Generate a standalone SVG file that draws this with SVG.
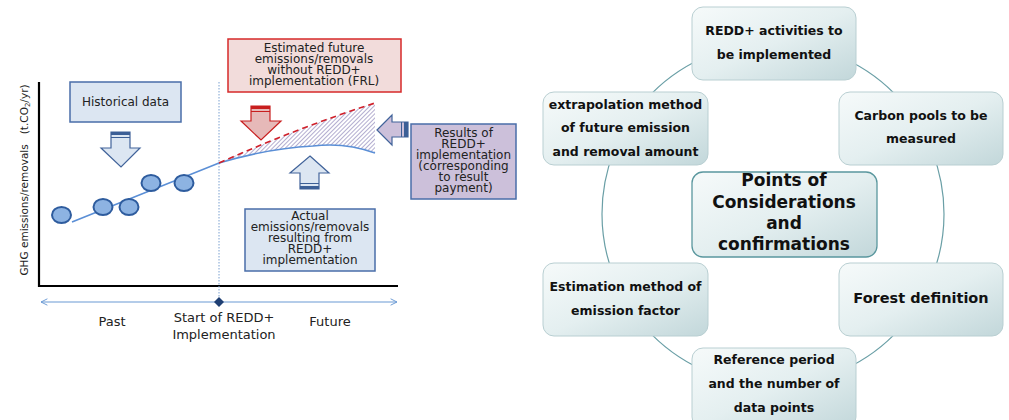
<svg xmlns="http://www.w3.org/2000/svg" width="1009" height="420" viewBox="0 0 1009 420">
<style>
.t{font-family:"DejaVu Sans",Verdana,sans-serif;fill:#222;text-anchor:middle}
.s{font-size:12px}
.b{font-family:"DejaVu Sans",Verdana,sans-serif;font-weight:bold;fill:#111;text-anchor:middle;font-size:12.5px}
.box{fill:#dce6f2;stroke:#4a6ea9;stroke-width:1.5}
.card{fill:url(#g);stroke:#b9cfd2;stroke-width:1}
.dot{fill:#8db3e2;stroke:#2e5c9e;stroke-width:2}
.band{fill:#3c5f96}
</style>
<defs>
<linearGradient id="g" x1="0" y1="0" x2="1" y2="1">
<stop offset="0" stop-color="#f6fafa"/>
<stop offset="0.5" stop-color="#e4eff0"/>
<stop offset="1" stop-color="#c2d7da"/>
</linearGradient>
<pattern id="hatch" width="3" height="3" patternUnits="userSpaceOnUse" patternTransform="rotate(45)">
<line x1="0" y1="0" x2="0" y2="3" stroke="#8a80b6" stroke-width="1.3"/>
</pattern>
<marker id="chev" viewBox="0 0 10 10" refX="9" refY="5" markerWidth="8" markerHeight="8" orient="auto-start-reverse" markerUnits="userSpaceOnUse">
<path d="M1,1 L9,5 L1,9" fill="none" stroke="#6a9ad4" stroke-width="1.2"/>
</marker>
</defs>
<rect width="1009" height="420" fill="#fff"/>

<!-- Left chart -->
<g id="axes">
<line x1="39" y1="82" x2="39" y2="287" stroke="#000" stroke-width="2.2"/>
<line x1="38" y1="286" x2="398" y2="286" stroke="#000" stroke-width="2.2"/>
<line x1="219" y1="82" x2="219" y2="302" stroke="#7aa0d0" stroke-width="1" stroke-dasharray="1.5,1.5"/>
<text class="t" font-size="10.5" transform="translate(28,180) rotate(-90)" xml:space="preserve">GHG emissions/removals   (t.CO<tspan font-size="7" dy="2">2</tspan><tspan dy="-2">/yr)</tspan></text>
</g>
<g id="connectors">
<line x1="41" y1="302" x2="397" y2="302" stroke="#6a9ad4" stroke-width="1.2" marker-start="url(#chev)" marker-end="url(#chev)"/>
<path d="M219,302 l5,-5 l5,5 l-5,5 z" transform="translate(-5,0)" fill="#1f3f73"/>
<path d="M219,163 Q300,127 375,103 L375,153 Q345,142 313,146 Q270,148 219,163 Z" fill="url(#hatch)"/>
<path d="M72,222 L219,163 Q270,148 313,146 Q345,142 375,153" fill="none" stroke="#5b8fd6" stroke-width="1.6"/>
<path d="M219,163 Q300,127 375,103" fill="none" stroke="#d0202a" stroke-width="1.6" stroke-dasharray="6,4"/>
</g>
<g id="points">
<ellipse class="dot" cx="61.5" cy="215" rx="9.5" ry="8"/>
<ellipse class="dot" cx="103" cy="207" rx="9.5" ry="8"/>
<ellipse class="dot" cx="129" cy="207" rx="9.5" ry="8"/>
<ellipse class="dot" cx="151" cy="183" rx="9.5" ry="8"/>
<ellipse class="dot" cx="184" cy="183" rx="9.5" ry="8"/>
</g>
<g id="historical">
<rect class="box" x="70" y="82" width="111" height="40"/>
<text class="t s" x="125.5" y="106">Historical data</text>
</g>
<g id="arrow-hist">
<polygon points="111,132 130,132 130,148 140,148 121,167 101,148 111,148" fill="#dce6f2" stroke="#41639a" stroke-width="1.2"/>
<rect class="band" x="111" y="132" width="19" height="3"/>
<rect class="band" x="111" y="137" width="19" height="1"/>
</g>
<g id="frl">
<rect x="228" y="39" width="173" height="53" fill="#f2dcdb" stroke="#d62a2a" stroke-width="1.5"/>
<text class="t s"><tspan x="314" y="52">Estimated future</tspan><tspan x="314" y="63">emissions/removals</tspan><tspan x="314" y="73.5">without REDD+</tspan><tspan x="314" y="84.5">implementation (FRL)</tspan></text>
</g>
<g id="arrow-frl">
<polygon points="251,106 270,106 270,121 281,121 261,140 241,121 251,121" fill="#e6b9b8" stroke="#c81e1e" stroke-width="1.2"/>
<rect x="251" y="106" width="19" height="3" fill="#c81e1e"/>
<rect x="251" y="111" width="19" height="1" fill="#c81e1e"/>
</g>
<g id="arrow-actual">
<polygon points="310,156 329,173 319,173 319,189 300,189 300,173 290,173" fill="#dce6f2" stroke="#41639a" stroke-width="1.2"/>
<rect class="band" x="300" y="183" width="19" height="1"/>
<rect class="band" x="300" y="186" width="19" height="3"/>
</g>
<g id="actual">
<rect class="box" x="245" y="209" width="130" height="62"/>
<text class="t s"><tspan x="310" y="220">Actual</tspan><tspan x="310" y="231">emissions/removals</tspan><tspan x="310" y="242">resulting from</tspan><tspan x="310" y="252.5">REDD+</tspan><tspan x="310" y="263.5">implementation</tspan></text>
</g>
<g id="arrow-results">
<polygon points="377,130 392,115 392,122 408,122 408,137 392,137 392,145" fill="#ccc0da" stroke="#41639a" stroke-width="1.2"/>
<rect class="band" x="401" y="122" width="1" height="15"/>
<rect class="band" x="404" y="122" width="4" height="15"/>
</g>
<g id="results">
<rect x="411" y="124" width="105" height="75" fill="#ccc0da" stroke="#4a6ea9" stroke-width="1.5"/>
<text class="t s"><tspan x="463.5" y="137">Results of</tspan><tspan x="463.5" y="148">REDD+</tspan><tspan x="463.5" y="159">implementation</tspan><tspan x="463.5" y="170">(corresponding</tspan><tspan x="463.5" y="180.5">to result</tspan><tspan x="463.5" y="191.5">payment)</tspan></text>
</g>
<g id="timeline-labels">
<text class="t" font-size="13" x="112" y="326">Past</text>
<text class="t" font-size="13"><tspan x="224" y="322">Start of REDD+</tspan><tspan x="224" y="339">Implementation</tspan></text>
<text class="t" font-size="13" x="330" y="326">Future</text>
</g>

<!-- Right cycle -->
<g id="ring">
<circle cx="773" cy="214" r="171" fill="none" stroke="#6a9fa6" stroke-width="1.2"/>
</g>
<g id="n-activities">
<rect class="card" x="692" y="7" width="164" height="73" rx="11"/>
<text class="b"><tspan x="774" y="35">REDD+ activities to</tspan><tspan x="774" y="59">be implemented</tspan></text>
</g>
<g id="n-extrapolation">
<rect class="card" x="543" y="92" width="165" height="73" rx="11"/>
<text class="b"><tspan x="625.5" y="109">extrapolation method</tspan><tspan x="625.5" y="132">of future emission</tspan><tspan x="625.5" y="156">and removal amount</tspan></text>
</g>
<g id="n-carbon">
<rect class="card" x="839" y="92" width="164" height="73" rx="11"/>
<text class="b"><tspan x="921" y="120">Carbon pools to be</tspan><tspan x="921" y="143">measured</tspan></text>
</g>
<g id="n-center">
<rect x="692" y="172" width="185" height="85" rx="11" fill="url(#g)" stroke="#5a979e" stroke-width="1.3"/>
<text class="b" style="font-size:17px"><tspan x="784" y="186">Points of</tspan><tspan x="784" y="208">Considerations</tspan><tspan x="784" y="229">and</tspan><tspan x="784" y="250">confirmations</tspan></text>
</g>
<g id="n-estimation">
<rect class="card" x="543" y="263" width="165" height="73" rx="11"/>
<text class="b"><tspan x="625.5" y="291">Estimation method of</tspan><tspan x="625.5" y="315">emission factor</tspan></text>
</g>
<g id="n-forest">
<rect class="card" x="839" y="263" width="164" height="73" rx="11"/>
<text class="b" style="font-size:14.5px" x="921" y="303">Forest definition</text>
</g>
<g id="n-reference">
<rect class="card" x="692" y="348" width="164" height="80" rx="11"/>
<text class="b"><tspan x="774" y="364">Reference period</tspan><tspan x="774" y="388">and the number of</tspan><tspan x="774" y="412">data points</tspan></text>
</g>
</svg>
